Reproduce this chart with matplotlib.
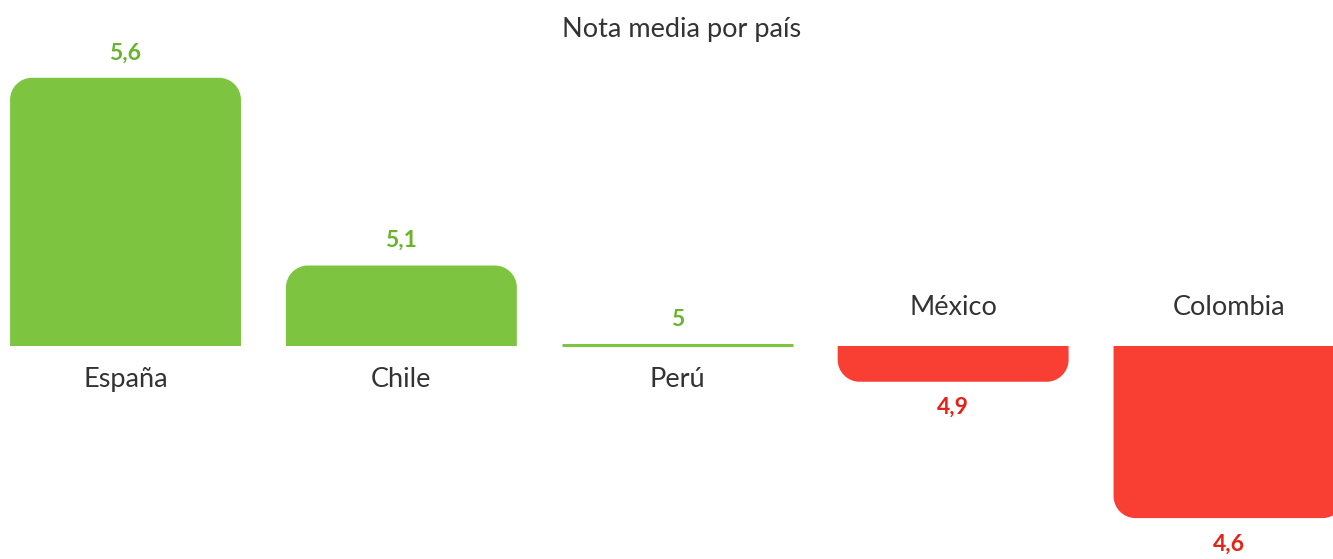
import matplotlib.pyplot as plt
from matplotlib.path import Path
from matplotlib.patches import PathPatch

# data (shown labels are truncated to one decimal)
paises = ['España', 'Chile', 'Perú', 'México', 'Colombia']
notas = [5.60, 5.18, 5.003, 4.92, 4.615]
etiquetas = ['5,6', '5,1', '5', '4,9', '4,6']
base = 5.0

verde, verde_txt = '#7dc540', '#6ab42d'
rojo, rojo_txt = '#f93e34', '#e2231a'
gris = '#333333'

plt.rcParams['font.family'] = ['Lato', 'DejaVu Sans']

fig = plt.figure(figsize=(13.33, 5.59), dpi=100)
ax = fig.add_axes([0, 0, 1, 1])
ax.set_xlim(-0.455, 4.377)
ax.set_ylim(4.5235, 5.774)
ax.axis('off')

bars = ax.bar(range(len(paises)), [v - base for v in notas], bottom=base,
              width=0.837, color='none')

# radius of the rounded corners, in data units (x and y scales differ)
rx, ry = 22 / 276, 22 / 447
k = 0.5523


def rounded(x0, x1, y0, y1, up):
    # only the far end of the bar gets rounded corners
    h = abs(y1 - y0)
    r_y = min(ry, h)
    r_x = rx * r_y / ry
    s = 1 if up else -1
    ye = y1 - s * r_y
    verts = [(x0, y0), (x0, ye),
             (x0, ye + s * k * r_y), (x0 + r_x - k * r_x, y1), (x0 + r_x, y1),
             (x1 - r_x, y1),
             (x1 - r_x + k * r_x, y1), (x1, ye + s * k * r_y), (x1, ye),
             (x1, y0), (x0, y0)]
    codes = [Path.MOVETO, Path.LINETO,
             Path.CURVE4, Path.CURVE4, Path.CURVE4,
             Path.LINETO,
             Path.CURVE4, Path.CURVE4, Path.CURVE4,
             Path.LINETO, Path.CLOSEPOLY]
    return Path(verts, codes)


for i, (b, v) in enumerate(zip(bars, notas)):
    x0, x1 = b.get_x(), b.get_x() + b.get_width()
    up = v >= base
    col = verde if up else rojo
    if abs(v - base) < 0.01:
        ax.plot([x0, x1], [v, v], color=col, lw=2.2, solid_capstyle='butt')
    else:
        ax.add_patch(PathPatch(rounded(x0, x1, base, v, up), fc=col, ec='none'))
    cx = x0 + b.get_width() / 2
    if up:
        ax.text(cx, v + 0.056, etiquetas[i], ha='center', va='center',
                fontsize=16.5, fontweight='bold', color=verde_txt)
        ax.text(cx, base - 0.075, paises[i], ha='center', va='center',
                fontsize=19.5, color=gris)
    else:
        ax.text(cx, v - 0.058, etiquetas[i], ha='center', va='center',
                fontsize=16.5, fontweight='bold', color=rojo_txt)
        ax.text(cx, base + 0.085, paises[i], ha='center', va='center',
                fontsize=19.5, color=gris)

ax.text(0.511, 0.948, 'Nota media por país', transform=ax.transAxes,
        ha='center', va='center', fontsize=19.5, color=gris)

fig.savefig('out.png', dpi=100)
